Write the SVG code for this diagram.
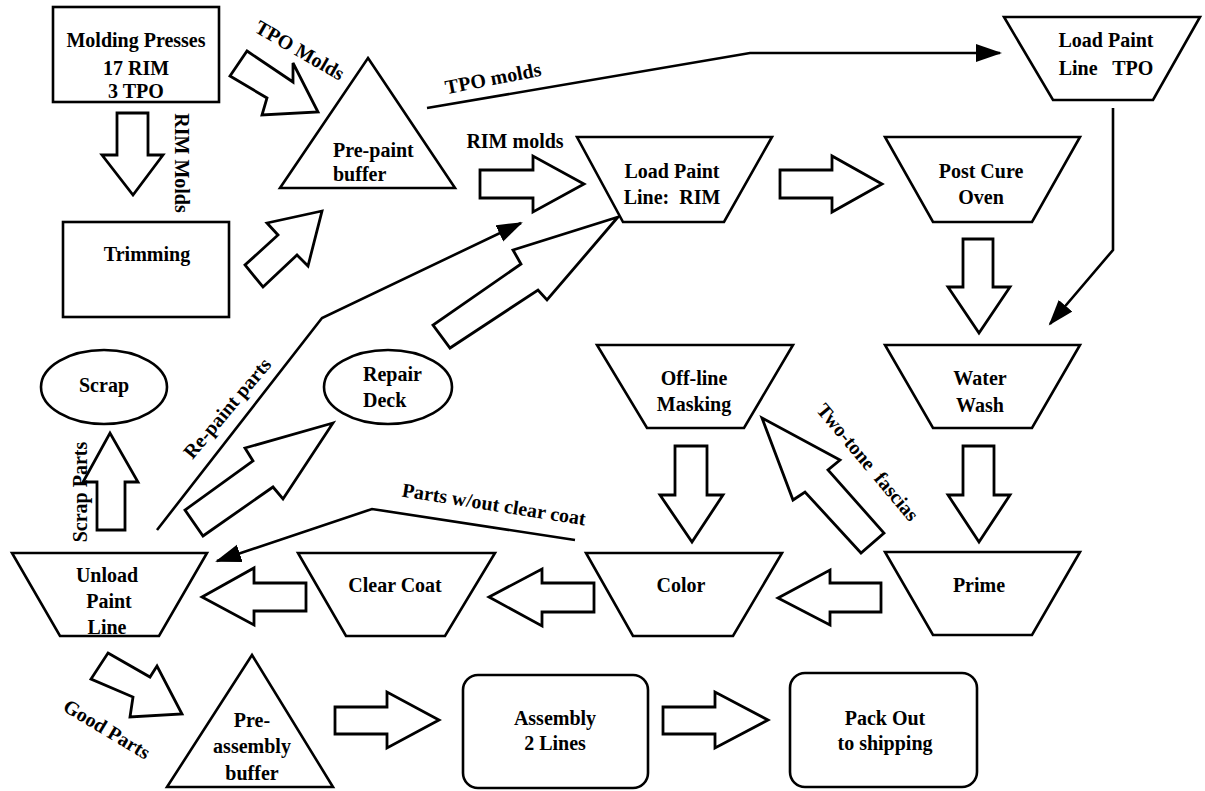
<svg xmlns="http://www.w3.org/2000/svg" width="1205" height="791" viewBox="0 0 1205 791" font-family="'Liberation Serif', 'Times New Roman', 'DejaVu Serif', serif">
<style>
.shape{fill:#fff;stroke:#000;stroke-width:2.6;stroke-linejoin:miter}
.blk{fill:#fff;stroke:#000;stroke-width:2.8;stroke-linejoin:miter}
.ln{fill:none;stroke:#000;stroke-width:2.6}
text{font-family:'Liberation Serif','Times New Roman','DejaVu Serif',serif;font-weight:bold;font-size:20px;fill:#000}
.c{text-anchor:middle}
.pre{white-space:pre}
</style>
<defs>
<marker id="ah" markerUnits="userSpaceOnUse" markerWidth="28" markerHeight="20" refX="24" refY="9" orient="auto">
<path d="M0,0 L26,9 L0,18 z" fill="#000"/>
</marker>
</defs>
<rect width="1205" height="791" fill="#fff"/>

<g id="connectors">
<polygon class="blk" points="117,113 148,113 148,155 163,155 133,195 102,155 117,155"/>
<polygon class="blk" points="247,51 293,82 293,63 318,112 262,115 267,98 230,76"/>
<polygon class="blk" points="322,211 267,223 278,235 245,265 263,287 297,255 308,266"/>
<polygon class="blk" points="480,170 533,170 533,156 584,184 533,212 533,198 480,198"/>
<polygon class="blk" points="780,170 832,170 832,156 882,184 832,212 832,198 780,198"/>
<polygon class="blk" points="963,239 993,239 993,287 1010,287 979,333 948,287 963,287"/>
<polygon class="blk" points="963,446 994,446 994,495 1010,495 979,542 948,495 963,495"/>
<polygon class="blk" points="881,583 830,583 830,570 778,598 830,625 830,612 881,612"/>
<polygon class="blk" points="762,418 840,460 828,470 884,533 861,553 805,492 793,500"/>
<polygon class="blk" points="675,446 707,446 707,495 723,495 692,542 660,495 675,495"/>
<polygon class="blk" points="594,583 542,583 542,569 489,597 542,626 542,612 594,612"/>
<polygon class="blk" points="306,583 254,583 254,568 202,597 254,625 254,611 306,611"/>
<polygon class="blk" points="97,530 125,530 125,482 138,482 110,433 83,482 97,482"/>
<polygon class="blk" points="333,423 245,448 253,461 185,510 203,536 273,487 283,499"/>
<polygon class="blk" points="618,217 513,250 521,264 433,325 450,348 538,290 547,300"/>
<polygon class="blk" points="108,653 150,677 157,666 182,714 130,717 133,697 91,679"/>
<polygon class="blk" points="335,707 387,707 387,692 439,720 387,748 387,734 335,734"/>
<polygon class="blk" points="663,707 715,707 715,692 768,720 715,748 715,734 663,734"/>

<polyline class="ln" points="427,108 750,53 1000,53" marker-end="url(#ah)"/>
<polyline class="ln" points="1113,108 1113,250 1050,324" marker-end="url(#ah)"/>
<polyline class="ln" points="157,530 322,318 521,223" marker-end="url(#ah)"/>
<polyline class="ln" points="575,540 372,509 217,561" marker-end="url(#ah)"/>

<text class="c" transform="translate(300,50) rotate(30)" y="7">TPO Molds</text>
<text class="c" transform="translate(182,163) rotate(90)" y="7">RIM Molds</text>
<text class="c" transform="translate(493,78) rotate(-11)" y="7">TPO molds</text>
<text class="c" x="515" y="148">RIM molds</text>
<text class="c" transform="translate(227,408) rotate(-50)" y="7">Re-paint parts</text>
<text class="c" transform="translate(80,492) rotate(-90)" y="7">Scrap Parts</text>
<text class="c" transform="translate(494,504) rotate(9)" y="7">Parts w/out clear coat</text>
<text class="c pre" transform="translate(868,462) rotate(50)" y="7">Two-tone  fascias</text>
<text class="c" transform="translate(107,729) rotate(31)" y="7">Good Parts</text>
</g>

<g id="molding-presses">
<rect class="shape" x="53" y="7" width="166" height="95"/>
<text class="c" x="136" y="47">Molding Presses</text>
<text class="c" x="136" y="75">17 RIM</text>
<text class="c" x="136" y="98">3 TPO</text>
</g>

<g id="trimming">
<rect class="shape" x="63" y="222" width="166" height="95"/>
<text class="c" x="147" y="261">Trimming</text>
</g>

<g id="pre-paint-buffer">
<polygon class="shape" points="368,58 455,188 280,188"/>
<text x="333" y="157">Pre-paint</text>
<text x="333" y="181">buffer</text>
</g>

<g id="load-paint-rim">
<polygon class="shape" points="577,137 772,137 724,222 623,222"/>
<text class="c" x="672" y="178">Load Paint</text>
<text class="c pre" x="672" y="204">Line:  RIM</text>
</g>

<g id="load-paint-tpo">
<polygon class="shape" points="1004,17 1200,17 1153,100 1053,100"/>
<text class="c" x="1106" y="47">Load Paint</text>
<text class="c pre" x="1106" y="75">Line   TPO</text>
</g>

<g id="post-cure-oven">
<polygon class="shape" points="885,137 1080,137 1032,222 933,222"/>
<text class="c" x="981" y="178">Post Cure</text>
<text class="c" x="981" y="204">Oven</text>
</g>

<g id="water-wash">
<polygon class="shape" points="885,345 1080,345 1032,428 933,428"/>
<text class="c" x="980" y="385">Water</text>
<text class="c" x="980" y="412">Wash</text>
</g>

<g id="prime">
<polygon class="shape" points="885,552 1080,552 1032,635 933,635"/>
<text class="c" x="979" y="592">Prime</text>
</g>

<g id="off-line-masking">
<polygon class="shape" points="597,345 793,345 744,428 647,428"/>
<text class="c" x="694" y="385">Off-line</text>
<text class="c" x="694" y="411">Masking</text>
</g>

<g id="color">
<polygon class="shape" points="586,553 782,553 733,636 633,636"/>
<text class="c" x="681" y="592">Color</text>
</g>

<g id="clear-coat">
<polygon class="shape" points="298,553 495,553 445,636 346,636"/>
<text class="c" x="395" y="592">Clear Coat</text>
</g>

<g id="unload-paint-line">
<polygon class="shape" points="12,553 207,553 159,636 60,636"/>
<text class="c" x="107" y="582">Unload</text>
<text class="c" x="109" y="608">Paint</text>
<text class="c" x="107" y="634">Line</text>
</g>

<g id="scrap">
<ellipse class="shape" cx="104" cy="387" rx="63" ry="37"/>
<text class="c" x="104" y="392">Scrap</text>
</g>

<g id="repair-deck">
<ellipse class="shape" cx="388" cy="387" rx="64" ry="37"/>
<text x="363" y="381">Repair</text>
<text x="363" y="407">Deck</text>
</g>

<g id="pre-assembly-buffer">
<polygon class="shape" points="252,655 333,787 167,787"/>
<text class="c" x="252" y="727">Pre-</text>
<text class="c" x="252" y="753">assembly</text>
<text class="c" x="252" y="780">buffer</text>
</g>

<g id="assembly">
<rect class="shape" x="463" y="675" width="185" height="113" rx="15"/>
<text class="c" x="555" y="725">Assembly</text>
<text class="c" x="555" y="750">2 Lines</text>
</g>

<g id="pack-out">
<rect class="shape" x="790" y="673" width="187" height="114" rx="15"/>
<text class="c" x="885" y="725">Pack Out</text>
<text class="c" x="885" y="750">to shipping</text>
</g>
</svg>
